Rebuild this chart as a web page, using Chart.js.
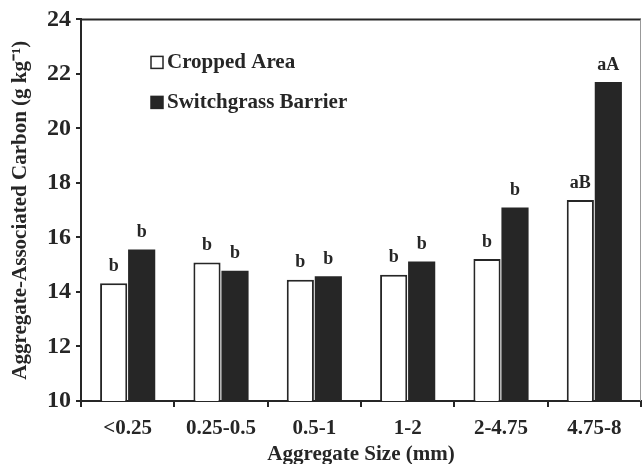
<!DOCTYPE html>
<html>
<head>
<meta charset="utf-8">
<script src="https://cdn.jsdelivr.net/npm/chart.js@4.4.1/dist/chart.umd.min.js"></script>
<style>
  html, body { margin: 0; padding: 0; background: #fff; }
  #wrap { width: 642px; height: 464px; }
</style>
</head>
<body>
<div id="wrap"><canvas id="chart" width="642" height="464"></canvas></div>
<script>
// ==================== DATA ====================
const sizes = ['<0.25', '0.25-0.5', '0.5-1', '1-2', '2-4.75', '4.75-8'];
const cropped = [14.32, 15.08, 14.45, 14.63, 15.21, 17.37];
const switchgrass = [15.56, 14.78, 14.58, 15.12, 17.10, 21.70];
const croppedLetters = ['b', 'b', 'b', 'b', 'b', 'aB'];
const switchLetters = ['b', 'b', 'b', 'b', 'b', 'aA'];

const FONT = "'Liberation Serif', 'Times New Roman', serif";
const INK = '#262626';

// ==================== PLUGINS ====================
// letters above each bar
const letterPlugin = {
    id: 'letters',
    afterDatasetsDraw(chart) {
        const ctx = chart.ctx;
        const sets = [croppedLetters, switchLetters];
        ctx.save();
        ctx.font = `bold 18px ${FONT}`;
        ctx.fillStyle = INK;
        ctx.textAlign = 'center';
        ctx.textBaseline = 'bottom';
        sets.forEach((letters, di) => {
            chart.getDatasetMeta(di).data.forEach((bar, i) => {
                ctx.fillText(letters[i], bar.x, bar.y - 8);
            });
        });
        ctx.restore();
    }
};

// legend box drawn inside the plot, top-left
const boxLegend = {
    id: 'boxLegend',
    afterDraw(chart) {
        const ctx = chart.ctx;
        const a = chart.chartArea;
        ctx.save();
        ctx.font = `bold 21px ${FONT}`;
        ctx.textBaseline = 'middle';
        chart.data.datasets.forEach((ds, i) => {
            const x = a.left + 70;
            const y = a.top + 43 + i * 40;
            ctx.fillStyle = ds.backgroundColor;
            ctx.strokeStyle = INK;
            ctx.lineWidth = 1.5;
            ctx.fillRect(x, y - 6, 12, 12);
            ctx.strokeRect(x, y - 6, 12, 12);
            ctx.fillStyle = INK;
            ctx.fillText(ds.label, x + 16, y);
        });
        ctx.restore();
    }
};

// frame: top and right lines
const framePlugin = {
    id: 'frame',
    afterDraw(chart) {
        const ctx = chart.ctx;
        const a = chart.chartArea;
        ctx.save();
        ctx.strokeStyle = INK;
        ctx.lineWidth = 2;
        ctx.beginPath();
        ctx.moveTo(a.left, a.top);
        ctx.lineTo(a.right, a.top);
        ctx.stroke();
        ctx.strokeStyle = '#999';
        ctx.lineWidth = 1;
        ctx.beginPath();
        ctx.moveTo(a.right - 0.5, a.top);
        ctx.lineTo(a.right - 0.5, a.bottom);
        ctx.stroke();
        ctx.restore();
    }
};

// ==================== CHART ====================
new Chart(document.getElementById('chart'), {
    type: 'bar',
    data: {
        labels: sizes,
        datasets: [
            {
                label: 'Cropped Area',
                data: cropped,
                backgroundColor: '#ffffff',
                borderColor: INK,
                borderWidth: 2,
                borderSkipped: 'bottom'
            },
            {
                label: 'Switchgrass Barrier',
                data: switchgrass,
                backgroundColor: INK,
                borderColor: INK,
                borderWidth: 0
            }
        ]
    },
    options: {
        responsive: false,
        animation: false,
        layout: { padding: { top: 18, right: 1, left: 0, bottom: 0 } },
        datasets: { bar: { categoryPercentage: 0.6, barPercentage: 0.97 } },
        plugins: {
            legend: { display: false },
            tooltip: { enabled: false }
        },
        scales: {
            x: {
                offset: true,
                grid: { offset: true, drawOnChartArea: false, drawTicks: true, tickLength: 6, color: INK, lineWidth: 2 },
                border: { color: INK, width: 2 },
                ticks: { color: INK, font: { family: FONT, size: 21, weight: 'bold' }, padding: 9 },
                title: { display: true, text: 'Aggregate Size (mm)', color: INK, font: { family: FONT, size: 21, weight: 'bold' }, padding: { top: 0, bottom: -3 } },
                afterFit(scale) { scale.height = 63; }
            },
            y: {
                min: 10,
                max: 24,
                grid: { drawOnChartArea: false, drawTicks: true, tickLength: 5, color: INK, lineWidth: 2 },
                border: { color: INK, width: 2 },
                ticks: {
                    stepSize: 1,
                    color: INK,
                    padding: 5,
                    font: { family: FONT, size: 24, weight: 'bold' },
                    callback: v => (v % 2 === 0 ? v : '')
                },
                title: { display: true, text: 'Aggregate-Associated Carbon (g kg\u207B\u00B9)', color: INK, font: { family: FONT, size: 21, weight: 'bold' }, padding: { top: 8, bottom: 0 } },
                afterFit(scale) { scale.width = 81; }
            }
        }
    },
    plugins: [letterPlugin, boxLegend, framePlugin]
});
</script>
</body>
</html>
